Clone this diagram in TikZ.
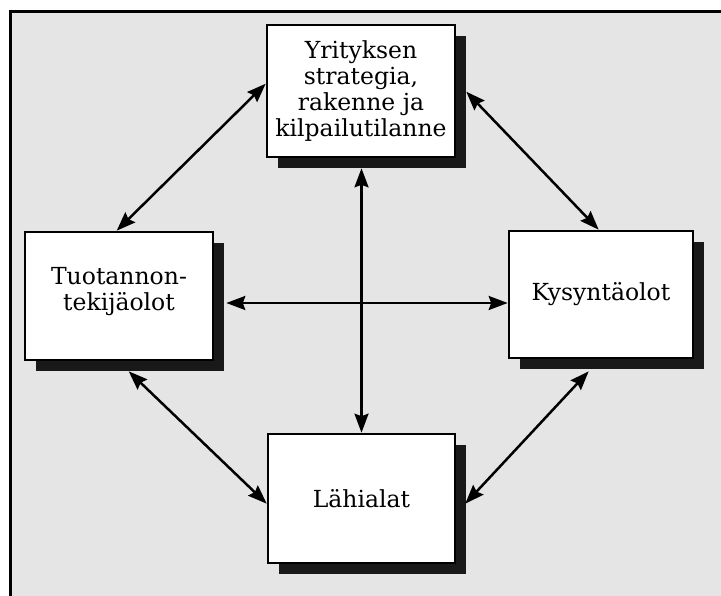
\documentclass[tikz,border=0pt]{standalone}
\usepackage{fontspec}
\setmainfont{DejaVu Serif}
\usetikzlibrary{arrows.meta,calc,shadows}
\begin{document}
\begin{tikzpicture}[x=1pt,y=-1pt,
  box/.style={draw=black, line width=2.6pt, fill=white, align=center,
    font=\fontsize{23.5}{26}\selectfont, inner sep=0pt,
    drop shadow={shadow xshift=11pt, shadow yshift=-11pt, fill=black!90, opacity=1}},
  arrowtip/.style={Stealth[length=19pt,width=14pt,inset=2.5pt]},
  link/.style={line width=2.5pt, {Stealth[length=19pt,width=14pt,inset=2.5pt]}-{Stealth[length=19pt,width=14pt,inset=2.5pt]}}]
\useasboundingbox (0,0) rectangle (721,596);
\fill[black!10] (10,12) rectangle (730,610);
\draw[line width=3pt] (10,610) -- (10,12) -- (730,12);

\node[box, minimum width=188pt, minimum height=132pt] (top) at (361,91)
  {Yrityksen\\strategia,\\rakenne ja\\kilpailutilanne};
\node[box, minimum width=188pt, minimum height=128pt] (lft) at (119,296)
  {Tuotannon-\\tekijäolot\\[-12pt]\mbox{}};
\node[box, minimum width=184pt, minimum height=127pt] (rgt) at (601,294.5)
  {Kysyntäolot};
\node[box, minimum width=187pt, minimum height=129pt] (bot) at (361.5,498.5)
  {Lähialat};

\coordinate (a1) at ($(top.north west)+(0,60)$);
\coordinate (a2) at ($(lft.north west)+(93,0)$);
\coordinate (b1) at ($(top.north east)+(10,68)$);
\coordinate (b2) at ($(rgt.north west)+(91,0)$);
\coordinate (c1) at ($(lft.south west)+(105,10)$);
\coordinate (c2) at ($(bot.north west)+(0,71)$);
\coordinate (d1) at ($(rgt.south west)+(81,12)$);
\coordinate (d2) at ($(bot.north east)+(9,71)$);
\coordinate (e1) at ($(top.south)+(0.5,10)$);
\coordinate (e2) at (e1 |- bot.north);
\coordinate (f1) at ($(lft.east)+(12,7)$);
\coordinate (f2) at (f1 -| rgt.west);

\draw[link] (a1) -- (a2);
\draw[link] (b1) -- (b2);
\draw[link] (c1) -- (c2);
\draw[link] (d1) -- (d2);
\draw[link] (e1) -- (e2);
\draw[link] (f1) -- (f2);
\end{tikzpicture}
\end{document}
